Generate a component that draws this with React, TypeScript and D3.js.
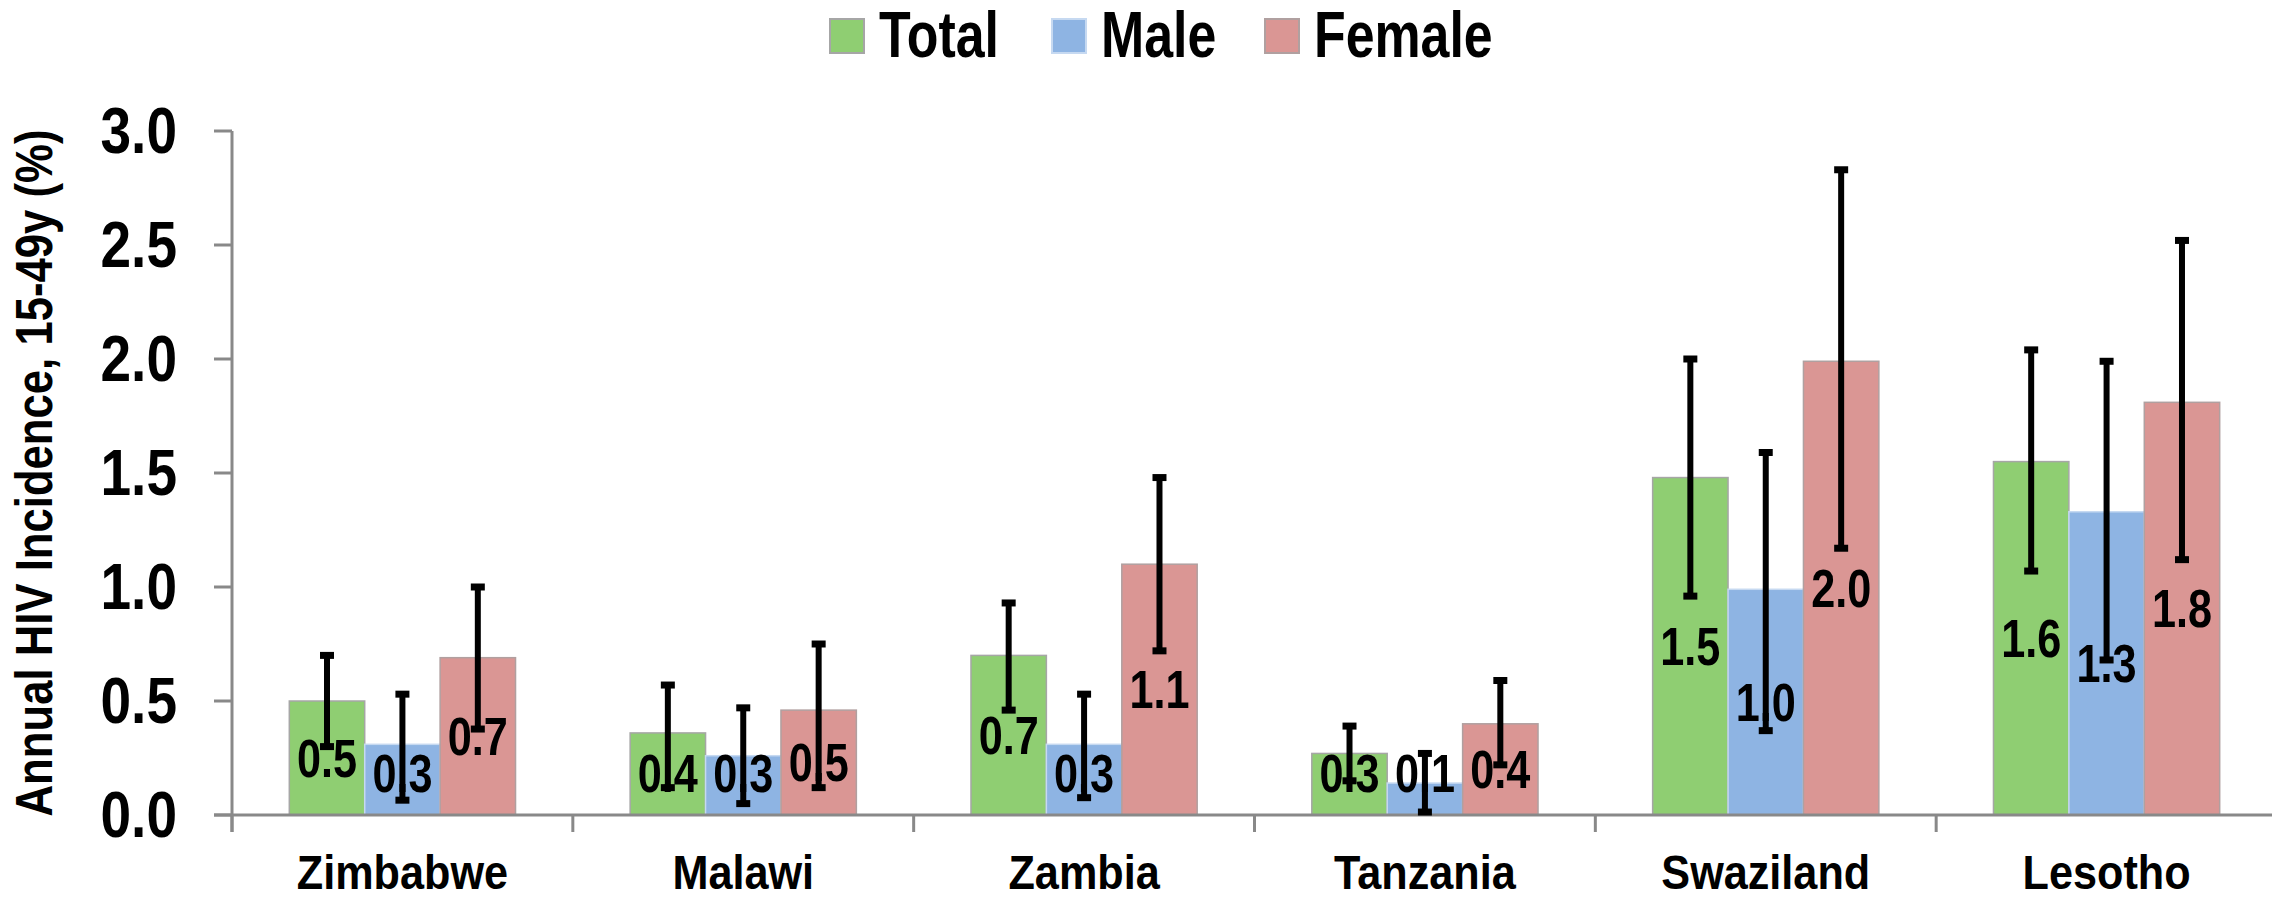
import * as d3 from 'd3';

const categories = ['Zimbabwe', 'Malawi', 'Zambia', 'Tanzania', 'Swaziland', 'Lesotho'];
const seriesNames = ['Total', 'Male', 'Female'];

const totalValues = [0.5, 0.36, 0.7, 0.27, 1.48, 1.55];
const maleValues = [0.31, 0.26, 0.31, 0.14, 0.99, 1.33];
const femaleValues = [0.69, 0.46, 1.1, 0.4, 1.99, 1.81];

const totalLow = [0.3, 0.12, 0.46, 0.15, 0.96, 1.07];
const totalHigh = [0.7, 0.57, 0.93, 0.39, 2.0, 2.04];
const maleLow = [0.065, 0.05, 0.076, 0.013, 0.37, 0.68];
const maleHigh = [0.53, 0.47, 0.53, 0.27, 1.59, 1.99];
const femaleLow = [0.377, 0.12, 0.72, 0.22, 1.17, 1.12];
const femaleHigh = [1.0, 0.75, 1.48, 0.59, 2.83, 2.52];

const totalLabels = ['0.5', '0.4', '0.7', '0.3', '1.5', '1.6'];
const maleLabels = ['0.3', '0.3', '0.3', '0.1', '1.0', '1.3'];
const femaleLabels = ['0.7', '0.5', '1.1', '0.4', '2.0', '1.8'];

const yTicks = [0, 0.5, 1, 1.5, 2, 2.5, 3];

const W = 2272;
const H = 903;
const left = 232;
const right = 2277;
const top = 131;
const bottom = 815;

const SANS = "'Liberation Sans', Arial, sans-serif";
const AXIS = '#898989';

const series = [
  { name: 'Total', values: totalValues, low: totalLow, high: totalHigh, labels: totalLabels, fill: '#8fce72', stroke: '#a6a6a6' },
  { name: 'Male', values: maleValues, low: maleLow, high: maleHigh, labels: maleLabels, fill: '#8eb4e3', stroke: '#c6d9f1' },
  { name: 'Female', values: femaleValues, low: femaleLow, high: femaleHigh, labels: femaleLabels, fill: '#da9694', stroke: '#b0a0a0' },
];

const legendX = [830, 1052, 1265];

// condensed bold text: Liberation Sans squeezed horizontally, like Arial Narrow
function NText({ x, y, size, sx = 0.82, anchor = 'start', central = false, rotate = 0, children }: any) {
  return (
    <text
      transform={`translate(${x},${y}) rotate(${rotate}) scale(${sx},1)`}
      textAnchor={anchor}
      dominantBaseline={central ? 'central' : 'auto'}
      fontFamily={SANS}
      fontWeight="bold"
      fontSize={size}
      fill="#000"
    >
      {children}
    </text>
  );
}

export default function App() {
  const x0 = d3.scaleBand<string>().domain(categories).range([left, right]).paddingInner(0).paddingOuter(0);
  const x1 = d3.scaleBand<string>().domain(seriesNames).range([0, x0.bandwidth()]).paddingInner(0).paddingOuter(0.76);
  const y = d3.scaleLinear().domain([0, 3]).range([bottom, top]);

  const bw = x1.bandwidth();

  return (
    <svg width={W} height={H} style={{ position: 'absolute', left: 0, top: 0, background: '#fff' }}>
      <rect width={W} height={H} fill="#fff" />

      {/* legend */}
      {series.map((s, i) => (
        <g key={s.name}>
          <rect x={legendX[i]} y={19} width={34} height={34} fill={s.fill} stroke={s.stroke} strokeWidth={2} />
          <NText x={legendX[i] + 49} y={57} size={64} sx={0.81}>
            {s.name}
          </NText>
        </g>
      ))}

      {/* y axis title */}
      <NText x={52} y={(top + bottom) / 2} size={52} sx={0.84} anchor="middle" rotate={-90}>
        Annual HIV Incidence, 15-49y (%)
      </NText>

      {/* y axis */}
      <line x1={left} x2={left} y1={top} y2={bottom + 17} stroke={AXIS} strokeWidth={3} />
      {yTicks.map((t) => (
        <g key={t}>
          <line x1={left - 18} x2={left} y1={y(t)} y2={y(t)} stroke={AXIS} strokeWidth={3} />
          <NText x={177} y={y(t)} size={64} sx={0.86} anchor="end" central>
            {d3.format('.1f')(t)}
          </NText>
        </g>
      ))}

      {/* bars */}
      {categories.map((c, ci) => (
        <g key={c} transform={`translate(${x0(c)},0)`}>
          {series.map((s) => (
            <rect
              key={s.name}
              x={x1(s.name)}
              y={y(s.values[ci])}
              width={bw}
              height={bottom - y(s.values[ci])}
              fill={s.fill}
              stroke={s.stroke}
              strokeWidth={1.5}
            />
          ))}
        </g>
      ))}

      {/* x axis */}
      <line x1={left - 18} x2={W} y1={bottom} y2={bottom} stroke={AXIS} strokeWidth={3} />
      {categories.map((c) => (
        <g key={c}>
          <line x1={x0(c)} x2={x0(c)} y1={bottom} y2={bottom + 17} stroke={AXIS} strokeWidth={3} />
          <NText x={(x0(c) as number) + x0.bandwidth() / 2} y={889} size={48} sx={0.9} anchor="middle">
            {c}
          </NText>
        </g>
      ))}

      {/* data labels */}
      {categories.map((c, ci) => (
        <g key={c} transform={`translate(${x0(c)},0)`}>
          {series.map((s) => {
            const cy = Math.min((y(s.values[ci]) + bottom) / 2, bottom - 42);
            return (
              <NText key={s.name} x={(x1(s.name) as number) + bw / 2} y={cy} size={54} sx={0.8} anchor="middle" central>
                {s.labels[ci]}
              </NText>
            );
          })}
        </g>
      ))}

      {/* error bars */}
      {categories.map((c, ci) => (
        <g key={c} transform={`translate(${x0(c)},0)`}>
          {series.map((s) => {
            const cx = (x1(s.name) as number) + bw / 2;
            const yl = y(s.low[ci]);
            const yh = y(s.high[ci]);
            return (
              <g key={s.name} stroke="#000">
                <line x1={cx} x2={cx} y1={yl} y2={yh} strokeWidth={6} />
                <line x1={cx - 7} x2={cx + 7} y1={yh} y2={yh} strokeWidth={7} />
                <line x1={cx - 7} x2={cx + 7} y1={yl} y2={yl} strokeWidth={7} />
              </g>
            );
          })}
        </g>
      ))}
    </svg>
  );
}
